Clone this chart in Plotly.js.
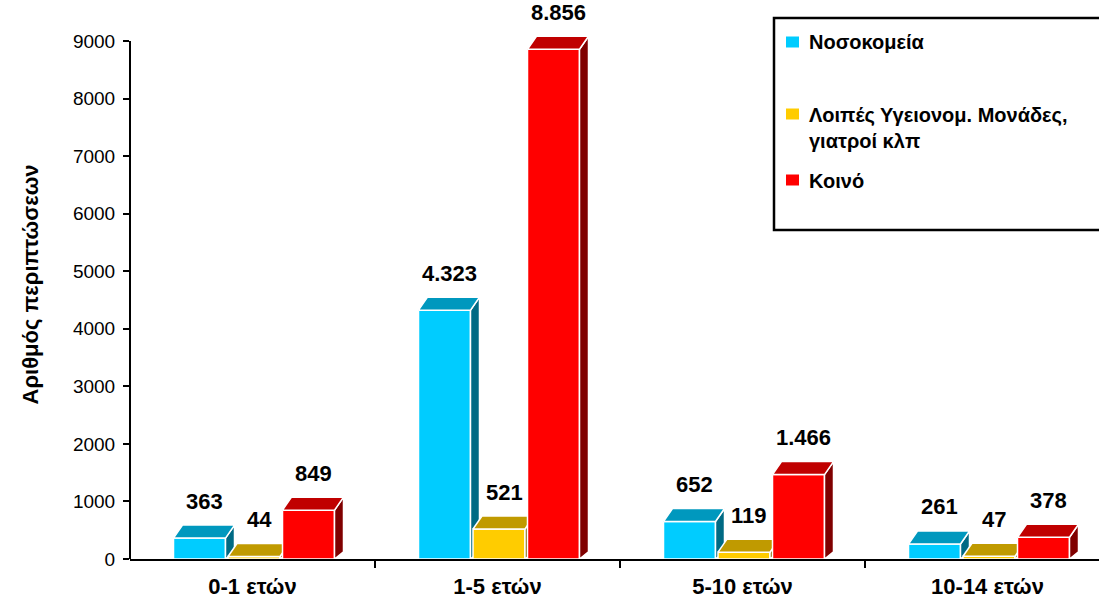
<!DOCTYPE html>
<html>
<head>
<meta charset="utf-8">
<script src="https://cdn.plot.ly/plotly-3.0.1.min.js"></script>
<style>html,body{margin:0;padding:0;background:#fff;}#chart{width:1099px;height:601px;}</style>
</head>
<body>
<div id="chart"></div>
<script>
// ---- data ----
const categories = ['0-1 ετών', '1-5 ετών', '5-10 ετών', '10-14 ετών'];
const seriesNames = ['Νοσοκομεία', 'Λοιπές Υγειονομ. Μονάδες,<br>γιατροί κλπ', 'Κοινό'];
const hospitals = [363, 4323, 652, 261];
const otherUnits = [44, 521, 119, 47];
const general = [849, 8856, 1466, 378];
const yTickValues = [0, 1000, 2000, 3000, 4000, 5000, 6000, 7000, 8000, 9000];
const yTitle = 'Αριθμός περιπτώσεων';

// ---- styling / geometry ----
const W = 1099, H = 601;
const M = {l: 130, r: 0, t: 10, b: 42};
const plotW = W - M.l - M.r, plotH = H - M.t - M.b;
const pxPerX = 245;                 // pixels per category
const pxPerY = 518 / 9000;          // pixels per unit
const xRange = [-0.5, -0.5 + plotW / pxPerX];
const yRange = [0, plotH / pxPerY];
const barW = 52 / pxPerX, barStep = 54.5 / pxPerX, groupShift = 1.5 / pxPerX;
const dX = 9 / pxPerX, dY = 13 / pxPerY;

const seriesValues = [hospitals, otherUnits, general];
const palette = [
  {front: '#00CCFF', top: '#0098BE', side: '#006A84'},
  {front: '#FFCC00', top: '#C09A00', side: '#806600'},
  {front: '#FF0000', top: '#C00000', side: '#800000'}
];
const mainFont = '"Liberation Sans", Arial, sans-serif';

function fmt(v) { return String(v).replace(/\B(?=(\d{3})+(?!\d))/g, '.'); }

const traces = [];
const annotations = [];
seriesValues.forEach((vals, s) => {
  const ax = s === 0 ? '' : String(s + 1);
  const centers = categories.map((c, i) => i + groupShift + (s - 1) * barStep);
  traces.push({
    type: 'bar', x: centers, y: vals, width: barW,
    xaxis: 'x' + ax, yaxis: 'y' + ax,
    marker: {color: palette[s].front, line: {color: '#ffffff', width: 1.5}},
    name: seriesNames[s], showlegend: false, hoverinfo: 'y'
  });
  const sx = [], sy = [], tx = [], ty = [];
  vals.forEach((v, i) => {
    const xl = centers[i] - barW / 2, xr = centers[i] + barW / 2;
    sx.push(xr, xr + dX, xr + dX, xr, xr, null);
    sy.push(0, dY * 0.55, v + dY, v, 0, null);
    tx.push(xl, xr, xr + dX, xl + dX, xl, null);
    ty.push(v, v, v + dY, v + dY, v, null);
    annotations.push({
      x: centers[i], y: v, xref: 'x', yref: 'y', text: fmt(v), showarrow: false,
      xshift: 5, yshift: 37, yanchor: 'middle',
      font: {family: mainFont, size: 22, color: '#000', weight: 'bold'}
    });
  });
  traces.push({type: 'scatter', mode: 'lines', x: sx, y: sy, fill: 'toself',
    fillcolor: palette[s].side, line: {color: '#ffffff', width: 1.5},
    xaxis: 'x' + ax, yaxis: 'y' + ax, showlegend: false, hoverinfo: 'skip'});
  traces.push({type: 'scatter', mode: 'lines', x: tx, y: ty, fill: 'toself',
    fillcolor: palette[s].top, line: {color: '#ffffff', width: 1.5},
    xaxis: 'x' + ax, yaxis: 'y' + ax, showlegend: false, hoverinfo: 'skip'});
});

// ---- manual legend (pixel -> paper helpers) ----
const pX = px => (px - M.l) / plotW;
const pY = py => (M.t + plotH - py) / plotH;
const shapes = [
  {type: 'line', xref: 'paper', yref: 'y', x0: 0, x1: 0, y0: 0, y1: 9000,
   line: {color: '#000', width: 2}},
  {type: 'rect', xref: 'paper', yref: 'paper', x0: pX(774), x1: pX(1110), y0: pY(230), y1: pY(18),
   line: {color: '#000', width: 2.5}, fillcolor: '#ffffff'}
];
const legendY = [42, 128, 181];
const squareY = [42, 114, 180];
seriesNames.forEach((n, s) => {
  shapes.push({type: 'rect', xref: 'paper', yref: 'paper',
    x0: pX(786), x1: pX(799), y0: pY(squareY[s] + 5.5), y1: pY(squareY[s] - 5.5),
    line: {width: 0}, fillcolor: palette[s].front});
  annotations.push({xref: 'paper', yref: 'paper', x: pX(807), y: pY(legendY[s]),
    xanchor: 'left', yanchor: 'middle', align: 'left', showarrow: false, text: n,
    font: {family: mainFont, size: 20, color: '#000', weight: 'bold'}});
});

const hiddenX = {range: xRange, visible: false, overlaying: 'x', fixedrange: true};
const hiddenY = {range: yRange, visible: false, overlaying: 'y', fixedrange: true};

const layout = {
  width: W, height: H, margin: M,
  paper_bgcolor: '#ffffff', plot_bgcolor: '#ffffff',
  showlegend: false,
  xaxis: {
    type: 'linear', range: xRange, fixedrange: true,
    tickmode: 'array', tickvals: categories.map((c, i) => i), ticktext: categories,
    ticks: '', showgrid: false, zeroline: false,
    showline: true, linecolor: '#000', linewidth: 2,
    tickfont: {family: mainFont, size: 22, color: '#000', weight: 'bold'},
    ticklabelstandoff: 7,
    minor: {tickmode: 'array', tickvals: [0.5, 1.5, 2.5], ticks: 'outside', ticklen: 7,
            tickcolor: '#000', tickwidth: 2, showgrid: false}
  },
  yaxis: {
    type: 'linear', range: yRange, fixedrange: true,
    tickmode: 'array', tickvals: yTickValues, ticktext: yTickValues.map(String),
    ticks: 'outside', ticklen: 6, tickwidth: 2, tickcolor: '#000',
    showgrid: false, zeroline: false, showline: false,
    tickfont: {family: mainFont, size: 19, color: '#000'},
    ticklabelstandoff: 4,
    title: {text: yTitle, standoff: 28, font: {family: mainFont, size: 22, color: '#000', weight: 'bold'}}
  },
  xaxis2: Object.assign({anchor: 'y2'}, hiddenX),
  yaxis2: Object.assign({anchor: 'x2'}, hiddenY),
  xaxis3: Object.assign({anchor: 'y3'}, hiddenX),
  yaxis3: Object.assign({anchor: 'x3'}, hiddenY),
  shapes: shapes,
  annotations: annotations
};

Plotly.newPlot('chart', traces, layout, {displayModeBar: false, staticPlot: true});
</script>
</body>
</html>
